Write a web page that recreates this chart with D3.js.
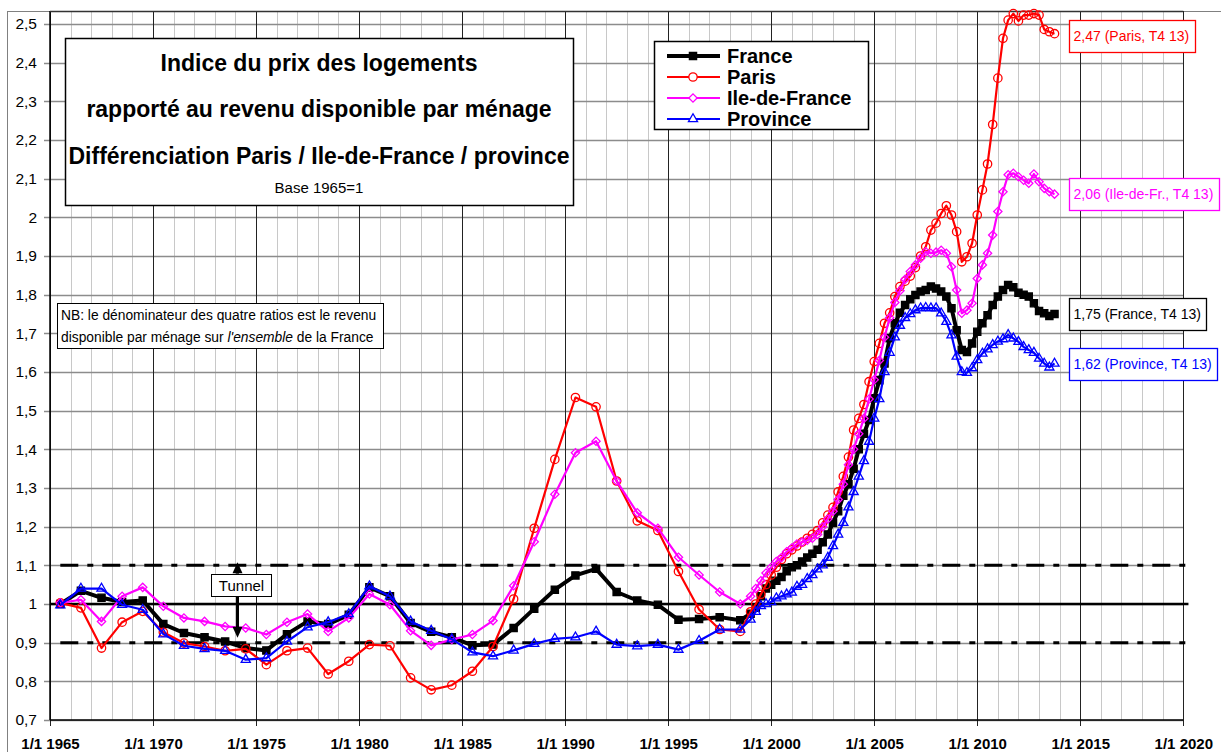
<!DOCTYPE html>
<meta charset="utf-8">
<style>
body {
  margin: 0;
  background-color: #fff;
}
svg {
  display: block;
  font-family: "Liberation Sans", Arial, sans-serif;
}
.axis path {
  display: none;
}
.axis text {
  fill: #000;
}
.serie {
  fill: none;
  stroke-linejoin: round;
}
</style>
<body>
<script src="https://d3js.org/d3.v7.min.js"></script>
<script>
// Indice du prix des logements / revenu par menage, base 1965 = 1
// annual points 1965-1998, quarterly points 1999 T1 - 2013 T4

var annualYears = [1965, 1966, 1967, 1968, 1969, 1970, 1971, 1972, 1973, 1974,
                   1975, 1976, 1977, 1978, 1979, 1980, 1981, 1982, 1983, 1984,
                   1985, 1986, 1987, 1988, 1989, 1990, 1991, 1992, 1993, 1994,
                   1995, 1996, 1997, 1998];
var quarterYears = [1999, 2000, 2001, 2002, 2003, 2004, 2005, 2006, 2007, 2008,
                    2009, 2010, 2011, 2012, 2013];

var franceAnnual = [1.000, 1.034, 1.016, 1.005, 1.009, 0.948, 0.925, 0.914, 0.903, 0.886,
                    0.880, 0.922, 0.955, 0.948, 0.972, 1.043, 1.020, 0.951, 0.928, 0.914,
                    0.893, 0.895, 0.938, 0.988, 1.037, 1.074, 1.091, 1.031, 1.009, 0.998,
                    0.959, 0.961, 0.966, 0.958];
var franceQuarterly = [0.975, 0.990, 1.020, 1.040,  1.050, 1.060, 1.070, 1.085,
                       1.095, 1.100, 1.110, 1.120,  1.130, 1.140, 1.160, 1.180,
                       1.210, 1.240, 1.280, 1.310,  1.350, 1.400, 1.440, 1.476,
                       1.532, 1.579, 1.622, 1.687,  1.726, 1.753, 1.773, 1.788,
                       1.799, 1.808, 1.812, 1.821,  1.816, 1.808, 1.795, 1.765,
                       1.708, 1.657, 1.652, 1.674,  1.704, 1.726, 1.747, 1.773,
                       1.795, 1.812, 1.825, 1.819,  1.805, 1.800, 1.795, 1.778,
                       1.758, 1.752, 1.745, 1.750];

var parisAnnual = [1.003, 0.990, 0.886, 0.953, 0.981, 0.927, 0.899, 0.890, 0.879, 0.884,
                   0.843, 0.879, 0.886, 0.819, 0.852, 0.895, 0.892, 0.809, 0.778, 0.790,
                   0.826, 0.890, 1.013, 1.196, 1.374, 1.534, 1.510, 1.318, 1.215, 1.190,
                   1.084, 0.986, 0.934, 0.929];
var parisQuarterly = [0.980, 1.000, 1.025, 1.050,  1.075, 1.095, 1.115, 1.130,
                      1.140, 1.150, 1.160, 1.170,  1.180, 1.190, 1.210, 1.230,
                      1.250, 1.290, 1.330, 1.380,  1.450, 1.480, 1.516, 1.575,
                      1.627, 1.674, 1.726, 1.753,  1.795, 1.821, 1.835, 1.848,
                      1.870, 1.900, 1.924, 1.967,  1.985, 2.010, 2.030, 2.006,
                      1.963, 1.885, 1.898, 1.933,  2.006, 2.071, 2.138, 2.240,
                      2.360, 2.463, 2.510, 2.527,  2.508, 2.523, 2.523, 2.527,
                      2.523, 2.486, 2.480, 2.475];

var idfAnnual = [1.003, 1.011, 0.955, 1.020, 1.043, 0.994, 0.964, 0.955, 0.942, 0.938,
                 0.921, 0.953, 0.974, 0.929, 0.964, 1.026, 0.998, 0.931, 0.893, 0.908,
                 0.921, 0.957, 1.047, 1.161, 1.284, 1.391, 1.421, 1.318, 1.236, 1.196,
                 1.121, 1.075, 1.031, 1.000];
var idfQuarterly = [1.020, 1.040, 1.060, 1.080,  1.095, 1.110, 1.120, 1.135,
                    1.145, 1.155, 1.160, 1.165,  1.170, 1.180, 1.200, 1.220,
                    1.240, 1.270, 1.310, 1.360,  1.400, 1.440, 1.480, 1.530,
                    1.580, 1.630, 1.690, 1.740,  1.780, 1.810, 1.840, 1.860,
                    1.877, 1.894, 1.911, 1.907,  1.910, 1.915, 1.907, 1.872,
                    1.812, 1.752, 1.760, 1.778,  1.842, 1.877, 1.907, 1.954,
                    2.015, 2.066, 2.110, 2.114,  2.105, 2.096, 2.088, 2.112,
                    2.092, 2.075, 2.066, 2.060];

var provinceAnnual = [0.997, 1.040, 1.040, 0.998, 0.985, 0.922, 0.892, 0.884, 0.879, 0.856,
                      0.860, 0.903, 0.940, 0.953, 0.974, 1.046, 1.020, 0.955, 0.931, 0.909,
                      0.875, 0.865, 0.880, 0.897, 0.910, 0.914, 0.929, 0.895, 0.891, 0.895,
                      0.882, 0.905, 0.934, 0.934];
var provinceQuarterly = [0.960, 0.980, 0.995, 1.000,  1.005, 1.015, 1.020, 1.025,
                         1.030, 1.045, 1.050, 1.065,  1.075, 1.090, 1.100, 1.120,
                         1.150, 1.180, 1.210, 1.250,  1.290, 1.330, 1.370, 1.420,
                         1.480, 1.530, 1.600, 1.650,  1.690, 1.720, 1.740, 1.750,
                         1.760, 1.765, 1.766, 1.765,  1.765, 1.752, 1.730, 1.695,
                         1.640, 1.600, 1.598, 1.610,  1.631, 1.648, 1.659, 1.670,
                         1.679, 1.685, 1.696, 1.687,  1.678, 1.665, 1.657, 1.650,
                         1.635, 1.622, 1.612, 1.622];

var yTicks = [0.7, 0.8, 0.9, 1.0, 1.1, 1.2, 1.3, 1.4, 1.5, 1.6, 1.7, 1.8, 1.9,
              2.0, 2.1, 2.2, 2.3, 2.4, 2.5];
var xTicks = [1965, 1970, 1975, 1980, 1985, 1990, 1995, 2000, 2005, 2010, 2015, 2020];

var titleLines = ["Indice du prix des logements",
                  "rapporté au revenu disponible par ménage",
                  "Différenciation Paris / Ile-de-France / province"];

var lastValues = [1.75, 2.47, 2.06, 1.62];

var seriesInfo = [
  {name: "France",        color: "#000000", annual: franceAnnual,   quarterly: franceQuarterly,   label: "1,75 (France, T4 13)"},
  {name: "Paris",         color: "#ff0000", annual: parisAnnual,    quarterly: parisQuarterly,    label: "2,47 (Paris, T4 13)"},
  {name: "Ile-de-France", color: "#ff00ff", annual: idfAnnual,      quarterly: idfQuarterly,      label: "2,06 (Ile-de-Fr., T4 13)"},
  {name: "Province",      color: "#0000ff", annual: provinceAnnual, quarterly: provinceQuarterly, label: "1,62 (Province, T4 13)"}
];

var svg = d3.select("body")
              .append("svg")
              .attr("width", 1221)
              .attr("height", 752);

var plotTop = 11,
    plotBottom = 720;

var x = d3.scaleLinear().domain([1965, 2020]).range([50, 1183.3]);
var y = d3.scaleLinear().domain([0.7, 2.5]).range([720, 24]);

// chart frame
svg.append("rect")
    .attr("x", 7.5).attr("y", 11.5)
    .attr("width", 1230).attr("height", 760)
    .attr("fill", "#fff")
    .attr("stroke", "#808080");

// grid : minor years, horizontal, major 5 years
var minorYears = d3.range(1966, 2020).filter(function(d) { return d % 5 != 0; });
svg.append("g").selectAll("line")
    .data(minorYears)
  .enter().append("line")
    .attr("x1", function(d) { return Math.round(x(d)) + 0.5; })
    .attr("x2", function(d) { return Math.round(x(d)) + 0.5; })
    .attr("y1", plotTop)
    .attr("y2", plotBottom)
    .attr("stroke", "#c8c8c8");

svg.append("g").selectAll("line")
    .data(yTicks)
  .enter().append("line")
    .attr("x1", 44)
    .attr("x2", x(2020))
    .attr("y1", function(d) { return Math.round(y(d)) + 0.5; })
    .attr("y2", function(d) { return Math.round(y(d)) + 0.5; })
    .attr("stroke", "#8c8c8c")
    .attr("stroke-width", 1.3);

svg.append("g").selectAll("line")
    .data(xTicks)
  .enter().append("line")
    .attr("x1", function(d) { return Math.round(x(d)) + 0.5; })
    .attr("x2", function(d) { return Math.round(x(d)) + 0.5; })
    .attr("y1", plotTop)
    .attr("y2", plotBottom + 6)
    .attr("stroke", "#222");

// plot borders / axes
svg.append("line")
    .attr("x1", 50).attr("x2", 50).attr("y1", plotTop).attr("y2", plotBottom)
    .attr("stroke", "#000").attr("stroke-width", 1.5);
svg.append("line")
    .attr("x1", 50).attr("x2", x(2020)).attr("y1", plotTop + 0.5).attr("y2", plotTop + 0.5)
    .attr("stroke", "#333").attr("stroke-width", 1.5);
svg.append("line")
    .attr("x1", 50).attr("x2", x(2020)).attr("y1", plotBottom).attr("y2", plotBottom)
    .attr("stroke", "#000").attr("stroke-width", 1.5);

// axis labels
svg.append("g")
    .attr("class", "axis")
    .attr("transform", "translate(43,0)")
    .call(d3.axisLeft(y).tickValues(yTicks).tickSize(0).tickPadding(6)
      .tickFormat(function(d) { return d3.format(".1~f")(d).replace(".", ","); }))
    .selectAll("text")
    .style("font-size", "15.5px");

svg.append("g")
    .attr("class", "axis")
    .attr("transform", "translate(0," + plotBottom + ")")
    .call(d3.axisBottom(x).tickValues(xTicks).tickSize(0).tickPadding(18)
      .tickFormat(function(d) { return "1/1 " + d; }))
    .selectAll("text")
    .style("font-size", "15px")
    .style("font-weight", "bold");

// tunnel reference lines
svg.append("line")
    .attr("x1", x(1965)).attr("x2", x(2020.25))
    .attr("y1", y(1)).attr("y2", y(1))
    .attr("stroke", "#000").attr("stroke-width", 2.5);

[1.1, 0.9].forEach(function(v) {
  svg.append("line")
      .attr("x1", x(1965.5)).attr("x2", x(2020.25))
      .attr("y1", y(v)).attr("y2", y(v))
      .attr("stroke", "#000").attr("stroke-width", 3)
      .attr("stroke-dasharray", "18,9,6,9");
});

// series
var line = d3.line()
    .x(function(d) { return x(d.t); })
    .y(function(d) { return y(d.v); });

function build(s) {
  var pts = annualYears.map(function(yr, i) { return {t: yr + 0.5, v: s.annual[i]}; });
  quarterYears.forEach(function(yr, i) {
    for (var q = 0; q < 4; q++) pts.push({t: yr + q / 4, v: s.quarterly[i * 4 + q]});
  });
  return pts;
}

var markers = {
  "France":        {type: d3.symbolSquare,   size: 52, fill: "#000", rot: 0,  width: 4},
  "Paris":         {type: d3.symbolCircle,   size: 55, fill: "none", rot: 0,  width: 2.2},
  "Ile-de-France": {type: d3.symbolSquare,   size: 34, fill: "none", rot: 45, width: 2.2},
  "Province":      {type: d3.symbolTriangle, size: 36, fill: "none", rot: 0,  width: 2.2}
};

seriesInfo.forEach(function(s) {
  var data = build(s),
      m = markers[s.name];
  var g = svg.append("g");
  g.append("path")
      .datum(data)
      .attr("class", "serie")
      .attr("stroke", s.color)
      .attr("stroke-width", m.width)
      .attr("d", line);
  g.selectAll(".mk")
      .data(data)
    .enter().append("path")
      .attr("class", "mk")
      .attr("transform", function(d) { return "translate(" + x(d.t) + "," + y(d.v) + ") rotate(" + m.rot + ")"; })
      .attr("d", d3.symbol().type(m.type).size(m.size))
      .attr("fill", m.fill == "none" ? "none" : s.color)
      .attr("stroke", s.color)
      .attr("stroke-width", 1.3);
});

// tunnel annotation
var tunnelX = x(1974.1);
svg.append("line")
    .attr("x1", tunnelX).attr("x2", tunnelX)
    .attr("y1", y(1.1) + 8).attr("y2", y(0.9) - 12)
    .attr("stroke", "#000").attr("stroke-width", 3);
svg.append("path")
    .attr("d", "M" + tunnelX + "," + (y(1.1) - 3) + "l-5,11h10z")
    .attr("fill", "#000");
svg.append("path")
    .attr("d", "M" + tunnelX + "," + (y(0.9) - 5) + "l-5,-11h10z")
    .attr("fill", "#000");
svg.append("rect")
    .attr("x", tunnelX - 26).attr("y", 574.5)
    .attr("width", 60).attr("height", 22)
    .attr("fill", "#fff").attr("stroke", "#000");
svg.append("text")
    .attr("x", tunnelX + 4).attr("y", 591)
    .attr("text-anchor", "middle")
    .style("font-size", "15px")
    .text("Tunnel");

// title box
svg.append("rect")
    .attr("x", 65.5).attr("y", 38.5)
    .attr("width", 508).attr("height", 167)
    .attr("fill", "#fff").attr("stroke", "#000").attr("stroke-width", 1.5);
titleLines.forEach(function(t, i) {
  svg.append("text")
      .attr("x", 319).attr("y", 71 + i * 46.3)
      .attr("text-anchor", "middle")
      .style("font-size", "23px")
      .style("font-weight", "bold")
      .text(t);
});
svg.append("text")
    .attr("x", 319).attr("y", 193)
    .attr("text-anchor", "middle")
    .style("font-size", "15px")
    .text("Base 1965=1");

// legend
svg.append("rect")
    .attr("x", 654.5).attr("y", 41.5)
    .attr("width", 214).attr("height", 88)
    .attr("fill", "#fff").attr("stroke", "#000").attr("stroke-width", 1.5);
seriesInfo.forEach(function(s, i) {
  var m = markers[s.name],
      cy = 56 + i * 21;
  svg.append("line")
      .attr("x1", 667).attr("x2", 720).attr("y1", cy).attr("y2", cy)
      .attr("stroke", s.color).attr("stroke-width", m.width);
  svg.append("path")
      .attr("transform", "translate(693," + cy + ") rotate(" + m.rot + ")")
      .attr("d", d3.symbol().type(m.type).size(m.size))
      .attr("fill", m.fill == "none" ? "#fff" : s.color)
      .attr("stroke", s.color).attr("stroke-width", 1.3);
  svg.append("text")
      .attr("x", 727).attr("y", cy + 7)
      .style("font-size", "20px")
      .style("font-weight", "bold")
      .text(s.name);
});

// NB box
svg.append("rect")
    .attr("x", 57.5).attr("y", 303.5)
    .attr("width", 326).attr("height", 45)
    .attr("fill", "#fff").attr("stroke", "#000");
svg.append("text")
    .attr("x", 61).attr("y", 320)
    .style("font-size", "13.8px")
    .text("NB: le dénominateur des quatre ratios est le revenu");
var nb2 = svg.append("text")
    .attr("x", 61).attr("y", 342)
    .style("font-size", "13.8px");
nb2.append("tspan").text("disponible par ménage sur ");
nb2.append("tspan").style("font-style", "italic").text("l'ensemble");
nb2.append("tspan").text(" de la France");

// last value labels
seriesInfo.forEach(function(s, i) {
  var t = svg.append("text")
      .attr("x", x(2014.43) + 5)
      .attr("y", y(lastValues[i]) + 5)
      .attr("fill", s.color)
      .style("font-size", "14px")
      .text(s.label);
  var b = t.node().getBBox();
  svg.insert("rect", function() { return t.node(); })
      .attr("x", Math.round(b.x - 5) + 0.5)
      .attr("y", Math.round(y(lastValues[i]) - 16) + 0.5)
      .attr("width", Math.round(b.width + 10))
      .attr("height", 32)
      .attr("fill", "#fff")
      .attr("stroke", s.color)
      .attr("stroke-width", 1.3);
});
</script>
</body>
